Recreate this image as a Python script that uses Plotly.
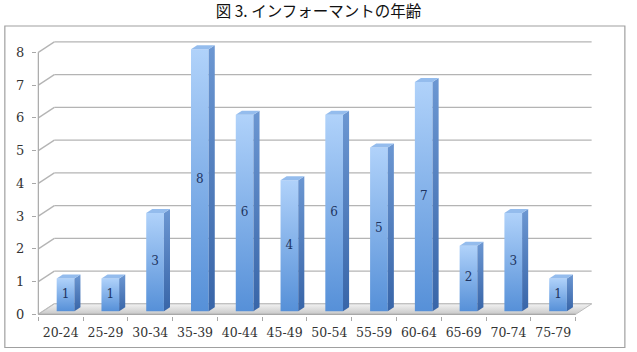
import plotly.graph_objects as go

# ---- data ----
categories = ["20-24", "25-29", "30-34", "35-39", "40-44", "45-49",
              "50-54", "55-59", "60-64", "65-69", "70-74", "75-79"]
values = [1, 1, 3, 8, 6, 4, 6, 5, 7, 2, 3, 1]
y_ticks = [0, 1, 2, 3, 4, 5, 6, 7, 8]
title_text = "図 3. インフォーマントの年齢"

# ---- layout geometry ----
W, H = 637, 352
PX_PER_X = 44.77          # pixels per category
PX_PER_Y = 32.8           # pixels per unit value
X0, X1 = -0.53, 12.0
Y0, Y1 = -0.05, 8.5
ML = 38.5 - (-0.5 - X0) * PX_PER_X
PW = (X1 - X0) * PX_PER_X
MR = W - ML - PW
MT = 36.0
PH = (Y1 - Y0) * PX_PER_Y
MB = H - MT - PH

# 3-D depth of the wall/floor (in data units)
DX = 16 / PX_PER_X
DY = 10.5 / PX_PER_Y
F0, F1 = 0.30, 0.68       # bar depth placement fraction
BW = 0.395                # bar width (category units)

n = len(categories)
xs = list(range(n))
fxo, fyo = F0 * DX, F0 * DY
bdx, bdy = (F1 - F0) * DX, (F1 - F0) * DY

grid_col = "#b4b4b4"
fig = go.Figure()

# floor
fx = [-0.5, n - 0.5, n - 0.5 + DX, -0.5 + DX, -0.5]
fy = [0, 0, DY, DY, 0]
fig.add_trace(go.Scatter(
    x=fx, y=fy, mode="lines", fill="toself",
    line=dict(color="#bdbdbd", width=1),
    fillgradient=dict(type="vertical",
                      colorscale=[[0, "#c8c8c8"], [1, "#f2f2f2"]]),
    hoverinfo="skip", showlegend=False))

for i, v in zip(xs, values):
    xl = i + fxo - BW / 2
    xr = i + fxo + BW / 2
    yb = fyo
    yt = v + fyo
    # front face
    fig.add_trace(go.Scatter(
        x=[xl, xr, xr, xl, xl], y=[yb, yb, yt, yt, yb],
        mode="lines", fill="toself", line=dict(width=0, color="#6a9fe0"),
        fillgradient=dict(type="vertical",
                          colorscale=[[0, "#5690d8"], [1, "#b0d2fa"]]),
        hoverinfo="skip", showlegend=False))
    # side face
    fig.add_trace(go.Scatter(
        x=[xr, xr + bdx, xr + bdx, xr, xr],
        y=[yb, yb + bdy, yt + bdy, yt, yb],
        mode="lines", fill="toself", line=dict(width=0, color="#4a7cc0"),
        fillgradient=dict(type="vertical",
                          colorscale=[[0, "#3865a8"], [1, "#6c97d2"]]),
        hoverinfo="skip", showlegend=False))
    # top face
    fig.add_trace(go.Scatter(
        x=[xl, xr, xr + bdx, xl + bdx, xl],
        y=[yt, yt, yt + bdy, yt + bdy, yt],
        mode="lines", fill="toself", line=dict(width=0, color="#94bced"),
        fillcolor="#94bced",
        hoverinfo="skip", showlegend=False))

# data labels
fig.add_trace(go.Scatter(
    x=[i + fxo for i in xs], y=[fyo + v / 2 for v in values],
    mode="text", text=[str(v) for v in values],
    textfont=dict(family="DejaVu Serif", size=12, color="#1e3461"),
    hoverinfo="skip", showlegend=False, cliponaxis=False))

# dummy trace for tick axis
fig.add_trace(go.Scatter(x=[], y=[], xaxis="x2", showlegend=False))

shapes = []
# back wall gridlines and connectors to front axis
for v in y_ticks:
    shapes.append(dict(type="line", xref="x", yref="y", layer="below",
                       x0=-0.5 + DX, x1=n - 0.5 + DX, y0=v + DY, y1=v + DY,
                       line=dict(color=grid_col, width=1.3)))
    shapes.append(dict(type="line", xref="x", yref="y", layer="below",
                       x0=-0.5, x1=-0.5 + DX, y0=v, y1=v + DY,
                       line=dict(color=grid_col, width=1.3)))
# front value axis line
shapes.append(dict(type="line", xref="x", yref="y", layer="above",
                   x0=-0.5, x1=-0.5, y0=0, y1=y_ticks[-1],
                   line=dict(color="#a8a8a8", width=1.2)))
# front category axis line
shapes.append(dict(type="line", xref="x", yref="y", layer="above",
                   x0=-0.5, x1=n - 0.5, y0=0, y1=0,
                   line=dict(color="#a8a8a8", width=1.2)))
# chart border
def px_to_paper_x(px):
    return (px - ML) / PW
def px_to_paper_y(py):
    return (H - MB - py) / PH
shapes.append(dict(type="rect", xref="paper", yref="paper", layer="below",
                   x0=px_to_paper_x(5), x1=px_to_paper_x(625),
                   y0=px_to_paper_y(348), y1=px_to_paper_y(26),
                   line=dict(color="#a0a0a0", width=1.2)))

tick_font = dict(family="DejaVu Serif", size=12.5, color="#333333")

fig.update_layout(
    width=W, height=H,
    margin=dict(l=ML, r=MR, t=MT, b=MB, pad=0),
    paper_bgcolor="white", plot_bgcolor="rgba(0,0,0,0)",
    showlegend=False,
    title=dict(text=title_text, x=0.5, xref="container",
               xanchor="center", y=1 - 12 / H, yref="container",
               yanchor="middle",
               font=dict(family="Noto Sans CJK JP", size=15.5, color="#111111",
                         weight="normal")),
    xaxis=dict(range=[X0, X1], tickmode="array", tickvals=xs,
               ticktext=categories, ticks="", showgrid=False,
               zeroline=False, showline=False, tickfont=tick_font,
               ticklabelstandoff=7, fixedrange=True),
    xaxis2=dict(range=[X0, X1], overlaying="x", side="bottom", anchor="y",
                tickmode="array", tickvals=[i - 0.5 for i in range(n + 1)],
                ticks="outside", ticklen=4, tickcolor="#a8a8a8", tickwidth=1.2,
                showticklabels=False, showgrid=False, zeroline=False,
                showline=False, fixedrange=True),
    yaxis=dict(range=[Y0, Y1], tickmode="array", tickvals=y_ticks,
               ticks="outside", ticklen=4, tickcolor="#a8a8a8", tickwidth=1.2,
               showgrid=False, zeroline=False, showline=False,
               tickfont=dict(family="DejaVu Serif", size=13, color="#333333"),
               ticklabelstandoff=5, fixedrange=True),
    shapes=shapes,
)

fig.write_html("out.html")
